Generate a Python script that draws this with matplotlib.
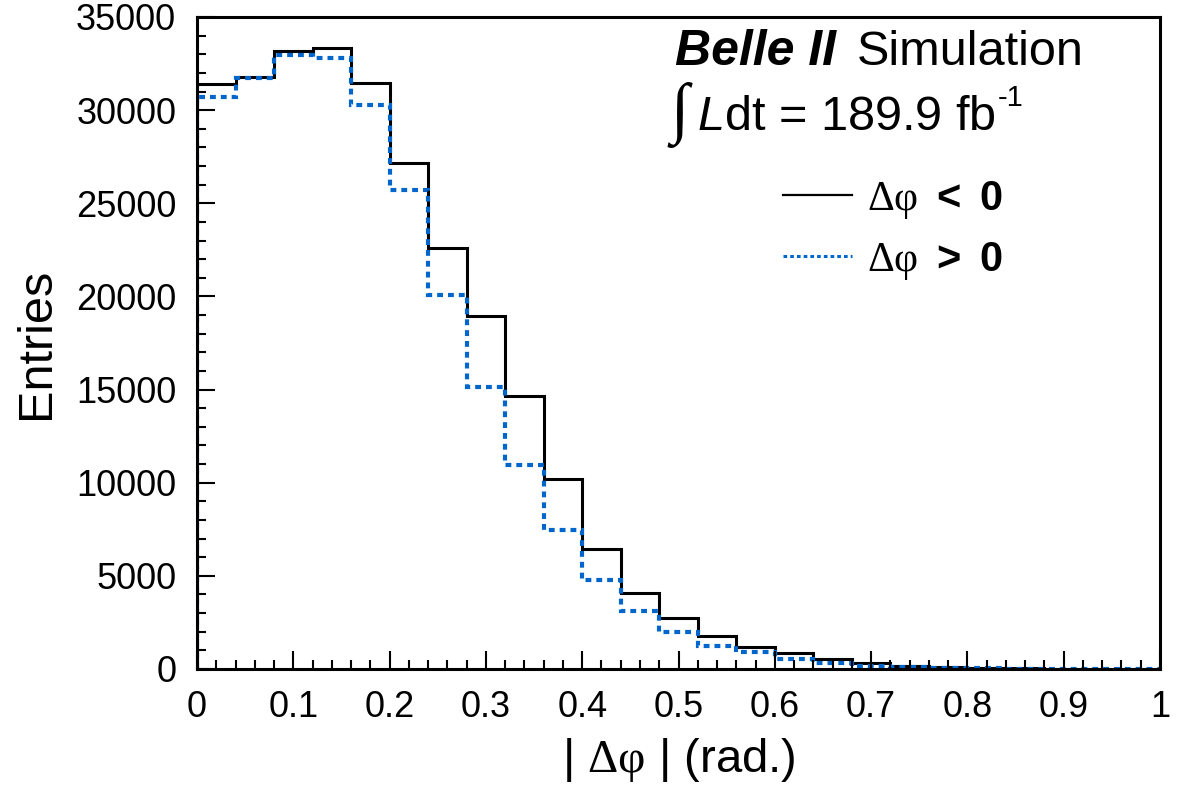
import numpy as np
import matplotlib
matplotlib.use("Agg")
import matplotlib.pyplot as plt
from matplotlib.lines import Line2D

# --- Data ---
bin_edges = np.linspace(0.0, 1.0, 26)
counts_neg = [31400, 31800, 33200, 33350, 31450, 27150, 22600, 18970, 14680, 10180,
              6450, 4100, 2720, 1790, 1160, 880, 520, 300, 160, 100,
              60, 40, 25, 15, 10]
counts_pos = [30700, 31750, 32950, 32800, 30250, 25700, 20050, 15120, 10950, 7460,
              4780, 3130, 2000, 1250, 930, 520, 340, 160, 100, 60,
              40, 25, 15, 10, 5]
x_ticks = [0, 0.1, 0.2, 0.3, 0.4, 0.5, 0.6, 0.7, 0.8, 0.9, 1.0]
x_ticklabels = ["0", "0.1", "0.2", "0.3", "0.4", "0.5", "0.6", "0.7", "0.8", "0.9", "1"]
y_ticks = [0, 5000, 10000, 15000, 20000, 25000, 30000, 35000]
labels = [r"$\mathrm{\Delta\varphi}\ \mathbf{<}\ \mathbf{0}$",
          r"$\mathrm{\Delta\varphi}\ \mathbf{>}\ \mathbf{0}$"]

BLUE = "#0066cc"
W, H = 1179, 796

plt.rcParams['font.family'] = ['Liberation Sans', 'DejaVu Sans']
plt.rcParams['mathtext.fontset'] = 'custom'
plt.rcParams['mathtext.rm'] = 'Liberation Serif'
plt.rcParams['mathtext.it'] = 'Liberation Sans:italic'
plt.rcParams['mathtext.bf'] = 'Liberation Sans:bold'
plt.rcParams['mathtext.sf'] = 'Liberation Sans'

fig = plt.figure(figsize=(W / 100, H / 100), dpi=100)
ax = fig.add_axes([197 / W, 1 - 669 / H, (1160 - 197) / W, (669 - 17) / H])

ax.stairs(counts_neg, bin_edges, color="black", linewidth=2.2, baseline=0)
ax.stairs(counts_pos, bin_edges, color=BLUE, linewidth=3.0, baseline=0,
          linestyle=(0, (1.4, 1.2)))

ax.set_xlim(0, 1)
ax.set_ylim(0, 35000)
ax.set_xticks(x_ticks)
ax.set_xticklabels(x_ticklabels)
ax.set_xticks(np.arange(0, 1.0001, 0.02), minor=True)
ax.set_yticks(y_ticks)
ax.set_yticklabels([str(v) for v in y_ticks])
ax.set_yticks(np.arange(0, 35001, 1000), minor=True)

ax.tick_params(which="both", direction="in", top=False, right=False, width=1.5)
ax.tick_params(which="major", length=13, labelsize=26, pad=15)
ax.tick_params(which="minor", length=6.5)
for s in ax.spines.values():
    s.set_linewidth(2.2)

ax.set_ylabel("Entries", fontsize=35)
ax.yaxis.set_label_coords(-0.143, 0.5)
ax.set_xlabel(r"| $\mathrm{\Delta\varphi}$ | (rad.)", fontsize=34)
ax.xaxis.set_label_coords(0.5, -0.103)

# header text
fig.text(675 / W, 1 - 65 / H, "Belle II", fontsize=36, fontweight="bold",
         fontstyle="italic", va="baseline")
fig.text(857 / W, 1 - 65 / H, "Simulation", fontsize=35, va="baseline")
fig.text(680 / W, 1 - 115 / H, "\u222b", fontsize=48, ha="center", va="center",
         family=["Liberation Serif", "DejaVu Serif"])
fig.text(697 / W, 1 - 130 / H, r"$\mathit{L}$dt = 189.9 fb", fontsize=35, va="baseline")
fig.text(998 / W, 1 - 106 / H, "-1", fontsize=21, va="baseline")

handles = [Line2D([], [], color="black", linewidth=1.6),
           Line2D([], [], color=BLUE, linewidth=2.2, linestyle=(0, (1.2, 1.0)))]
ax.legend(handles, labels, loc="upper left", bbox_to_anchor=(783 / W, 1 - 179 / H),
          bbox_transform=fig.transFigure, frameon=False, fontsize=30,
          borderpad=0, borderaxespad=0, handlelength=1.65, handletextpad=0.36,
          labelspacing=0.45)

fig.savefig("out.png", dpi=100)
